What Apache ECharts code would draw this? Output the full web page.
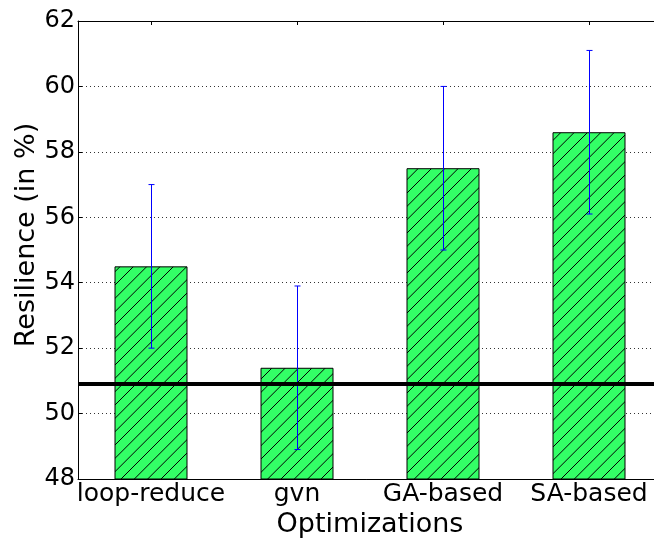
<!DOCTYPE html>
<html>
<head>
<meta charset="utf-8">
<script src="https://cdn.jsdelivr.net/npm/echarts@6/dist/echarts.min.js"></script>
<style>
html,body{margin:0;padding:0;background:#fff;}
#chart{width:654px;height:538px;}
</style>
</head>
<body>
<div id="chart"></div>
<script>
const categories = ['loop-reduce', 'gvn', 'GA-based', 'SA-based'];
const resilience = [54.5, 51.4, 57.5, 58.6];
const errLow = [52.0, 48.9, 55.0, 56.1];
const errHigh = [57.0, 53.9, 60.0, 61.1];
const baseline = 50.9;
const yTicks = [48, 50, 52, 54, 56, 58, 60, 62];
const yTitle = 'Resilience (in %)';
const xTitle = 'Optimizations';

// hatch pattern
const tile = document.createElement('canvas');
tile.width = 40; tile.height = 40;
const ctx = tile.getContext('2d');
ctx.fillStyle = '#33ff66';
ctx.fillRect(0, 0, 40, 40);
ctx.strokeStyle = '#000';
ctx.lineWidth = 1;
for (let c = -40; c <= 80; c += 40 / 3) {
  ctx.beginPath();
  ctx.moveTo(c + 40, -40);
  ctx.lineTo(c - 40, 40);
  ctx.stroke();
}

const chart = echarts.init(document.getElementById('chart'));
const font = 'DejaVu Sans';
chart.setOption({
  animation: false,
  grid: { left: 78, top: 21, width: 584, height: 458, outerBoundsMode: 'none', containLabel: false },
  graphic: [{
    type: 'text',
    x: 27, y: 235,
    rotation: Math.PI / 2,
    style: { text: yTitle, font: '27px "DejaVu Sans"', fill: '#000', align: 'center', verticalAlign: 'middle' }
  }],
  xAxis: [{
    type: 'category',
    data: categories,
    position: 'bottom',
    name: xTitle,
    nameLocation: 'middle',
    nameGap: 31,
    nameTextStyle: { fontFamily: font, fontSize: 27, color: '#000' },
    axisLine: { lineStyle: { color: '#000', width: 1 } },
    axisTick: { show: true, alignWithLabel: true, inside: true, length: 4, lineStyle: { color: '#000' } },
    axisLabel: { fontFamily: font, fontSize: 25, color: '#000', margin: 3, interval: 0 },
    splitLine: { show: false }
  }, {
    type: 'category',
    data: categories,
    position: 'top',
    axisLine: { lineStyle: { color: '#000', width: 1 } },
    axisTick: { show: true, alignWithLabel: true, inside: true, length: 4, lineStyle: { color: '#000' } },
    axisLabel: { show: false }
  }],
  yAxis: {
    type: 'value',
    min: 48, max: 62, interval: 2,
    axisLine: { show: true, lineStyle: { color: '#000', width: 1 } },
    axisTick: { show: true, inside: true, length: 4, lineStyle: { color: '#000' } },
    axisLabel: { fontFamily: font, fontSize: 24, color: '#000', margin: 3,
      formatter: v => yTicks.includes(v) ? String(v) : '' },
    splitLine: { show: true, lineStyle: { color: '#000', type: [1, 3], width: 1, opacity: 0.8 } }
  },
  series: [{
    type: 'bar',
    data: resilience,
    barWidth: '50%',
    itemStyle: {
      color: { image: tile, repetition: 'repeat' },
      borderColor: '#000',
      borderWidth: 1
    },
    markLine: {
      silent: true,
      symbol: ['none', 'none'],
      label: { show: false },
      lineStyle: { color: '#000', width: 4, type: 'solid' },
      data: [{ yAxis: baseline }]
    },
    z: 2
  }, {
    type: 'custom',
    data: categories.map((c, i) => [i, errLow[i], errHigh[i]]),
    renderItem: function (params, api) {
      const lo = api.coord([api.value(0), api.value(1)]);
      const hi = api.coord([api.value(0), api.value(2)]);
      const x = Math.round(lo[0]) + 0.5;
      const hw = 3;
      const style = { stroke: '#0000ff', lineWidth: 1 };
      return {
        type: 'group',
        children: [
          { type: 'line', shape: { x1: x, y1: hi[1], x2: x, y2: lo[1] }, style },
          { type: 'line', shape: { x1: x - hw, y1: hi[1], x2: x + hw, y2: hi[1] }, style },
          { type: 'line', shape: { x1: x - hw, y1: lo[1], x2: x + hw, y2: lo[1] }, style }
        ]
      };
    },
    z: 3
  }]
});
</script>
</body>
</html>
